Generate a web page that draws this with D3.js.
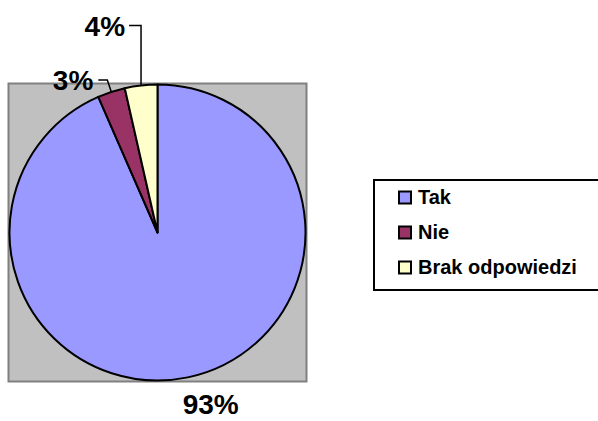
<!DOCTYPE html>
<html>
<head>
<meta charset="utf-8">
<script src="https://cdn.jsdelivr.net/npm/d3@7"></script>
<style>
  body { margin: 0; background: #fff; }
  text { font-family: "Liberation Sans", Arial, sans-serif; font-weight: bold; }
</style>
</head>
<body>
<div id="chart"></div>
<script>
var categories = ['Tak', 'Nie', 'Brak odpowiedzi'];
var values = [93.45, 3.0, 3.55];
var colors = ['#9999FF', '#993366', '#FFFFCC'];

var width = 598, height = 421;
var cx = 157.5, cy = 232.5, radius = 148;

var svg = d3.select('#chart').append('svg')
  .attr('width', width)
  .attr('height', height);

// plot area
svg.append('rect')
  .attr('x', 8.5).attr('y', 83.5)
  .attr('width', 298).attr('height', 298)
  .attr('fill', '#C0C0C0')
  .attr('stroke', '#808080')
  .attr('stroke-width', 2);

var data = categories.map(function(c, i){
  return { name: c, value: values[i], color: colors[i] };
});

var pie = d3.pie()
  .sort(null)
  .value(function(d){ return d.value; });

var arc = d3.arc()
  .innerRadius(0)
  .outerRadius(radius);

var arcs = pie(data);

var g = svg.append('g')
  .attr('transform', 'translate(' + cx + ',' + cy + ')');

g.selectAll('path')
  .data(arcs)
  .enter().append('path')
    .attr('d', arc)
    .attr('fill', function(d){ return d.data.color; })
    .attr('stroke', '#000')
    .attr('stroke-width', 2)
    .attr('stroke-linejoin', 'round');

// point on the rim at the middle of each slice
var rim = function(d){
  var a = (d.startAngle + d.endAngle) / 2;
  return [radius * Math.sin(a), -radius * Math.cos(a)];
};

// label offsets from the rim point (layout only)
var labelLayout = [
  { tx: 23, ty: 37, anchor: 'middle', leader: null },
  { tx: -18, ty: -2, anchor: 'end', leader: [[-4, -12], [-13, -12]] },
  { tx: -16, ty: -49, anchor: 'end', leader: [[0, -60], [-12, -60]] }
];

arcs.forEach(function(d, i){
  var p = rim(d);
  var l = labelLayout[i];
  if (l.leader) {
    var pts = [p].concat(l.leader.map(function(o){ return [p[0] + o[0], p[1] + o[1]]; }));
    g.append('path')
      .attr('d', d3.line()(pts))
      .attr('fill', 'none')
      .attr('stroke', '#000')
      .attr('stroke-width', 1.5);
  }
  g.append('text')
    .attr('x', p[0] + l.tx)
    .attr('y', p[1] + l.ty)
    .attr('text-anchor', l.anchor)
    .style('font-size', '28px')
    .text(Math.round(d.data.value) + '%');
});

// legend (its right side runs past the edge, as in the original)
var legend = svg.append('g');
legend.append('rect')
  .attr('x', 374).attr('y', 180)
  .attr('width', 240).attr('height', 110)
  .attr('fill', '#fff')
  .attr('stroke', '#000')
  .attr('stroke-width', 2);

var items = legend.selectAll('g.item')
  .data(data)
  .enter().append('g')
    .attr('class', 'item')
    .attr('transform', function(d, i){ return 'translate(0,' + (i * 35) + ')'; });

items.append('rect')
  .attr('x', 399).attr('y', 191.5)
  .attr('width', 12).attr('height', 12)
  .attr('fill', function(d){ return d.color; })
  .attr('stroke', '#000')
  .attr('stroke-width', 2);

items.append('text')
  .attr('x', 418).attr('y', 204)
  .style('font-size', '20px')
  .text(function(d){ return d.name; });
</script>
</body>
</html>
